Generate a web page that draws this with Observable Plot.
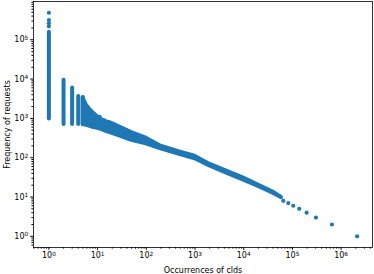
<!DOCTYPE html>
<html><head><meta charset="utf-8">
<script src="https://cdn.jsdelivr.net/npm/d3@7"></script>
<script src="https://cdn.jsdelivr.net/npm/@observablehq/plot@0.6"></script>
<style>body{margin:0;background:#fff}</style>
</head><body><div id="chart"></div>
<script>
// vertical columns of points at small occurrence counts
const colX  = [1, 2, 3, 4, 5];
const colLo = [960, 700, 700, 700, 690];
const colHi = [155000, 9300, 5900, 3600, 3400];

// dense band of points (lower / upper envelope)
const bandX  = [5, 6, 7, 8, 10, 12, 15, 20, 30, 50, 100, 200, 500, 1000, 2000, 5000, 10000, 20000, 40000, 60000];
const bandLo = [690, 660, 622, 587, 553, 522, 464, 413, 346, 274, 222, 166, 118, 93, 61, 38, 26.5, 18.3, 12.4, 9.5];
const bandHi = [3400, 2130, 1685, 1413, 1117, 938, 834, 742, 587, 438, 318, 198, 139, 110, 69, 43.5, 30.5, 20.5, 13.6, 9.9];

// isolated points
const dotX = [1, 1, 1, 1, 11, 13, 17, 65000, 82400, 104000, 138000, 196000, 304000, 647000, 2130000];
const dotY = [220000, 263000, 316000, 486000, 1090, 900, 800, 8, 7, 6, 5, 4, 3, 2, 1];

const majorX = [1, 10, 100, 1000, 10000, 100000, 1000000];
const majorY = [1, 10, 100, 1000, 10000, 100000];

const minorTicks = (lo, hi) => {
  const out = [];
  for (let e = lo; e <= hi; e++) for (let m = 2; m <= 9; m++) out.push(m * Math.pow(10, e));
  return out;
};
const minorX = minorTicks(-1, 6).filter(v => v >= 0.483 && v <= 4.41e6);
const minorY = minorTicks(-1, 5).filter(v => v >= 0.52 && v <= 9.4e5);

const cols = colX.map((x, i) => ({x, lo: colLo[i], hi: colHi[i]}));
const band = bandX.map((x, i) => ({x, lo: bandLo[i], hi: bandHi[i]}));
const dots = dotX.map((x, i) => ({x, y: dotY[i]}));

const blue = "#1f77b4";
const fmt = d => "10|" + Math.round(Math.log10(d));

const chart = Plot.plot({
  width: 374, height: 274,
  marginLeft: 33, marginRight: 2, marginTop: 1, marginBottom: 27,
  style: {fontFamily: "DejaVu Sans", fontSize: "8px", background: "white", color: "black"},
  x: {type: "log", domain: [0.483, 4.41e6]},
  y: {type: "log", domain: [0.52, 9.4e5]},
  marks: [
    Plot.areaY(band, {x: "x", y1: "lo", y2: "hi", fill: blue, stroke: blue, strokeWidth: 3.6, strokeLinejoin: "round"}),
    Plot.ruleX(cols, {x: "x", y1: "lo", y2: "hi", stroke: blue, strokeWidth: 4, strokeLinecap: "round"}),
    Plot.dot(dots, {x: "x", y: "y", r: 2.1, fill: blue}),
    Plot.frame({stroke: "black", strokeWidth: 0.8}),
    Plot.axisX({ticks: majorX, tickSize: 2.8, tickPadding: 2.5, tickFormat: fmt, label: "Occurrences of clds", labelAnchor: "center", labelOffset: 25, labelArrow: "none"}),
    Plot.axisX({ticks: minorX, tickSize: 1.6, tickFormat: () => "", label: null}),
    Plot.axisY({ticks: majorY, tickSize: 2.8, tickPadding: 2.5, tickFormat: fmt, label: "Frequency of requests", labelAnchor: "center", labelOffset: 29, labelArrow: "none"}),
    Plot.axisY({ticks: minorY, tickSize: 1.6, tickFormat: () => "", label: null})
  ]
});
// render exponents as real superscripts
chart.querySelectorAll("text").forEach(t => {
  const s = t.textContent;
  if (s.includes("|")) {
    const [base, exp] = s.split("|");
    t.textContent = base;
    const ts = document.createElementNS("http://www.w3.org/2000/svg", "tspan");
    ts.setAttribute("dy", "-0.45em");
    ts.setAttribute("font-size", "5.8px");
    ts.textContent = exp;
    t.appendChild(ts);
  }
});
document.getElementById("chart").appendChild(chart);
</script>
</body></html>
